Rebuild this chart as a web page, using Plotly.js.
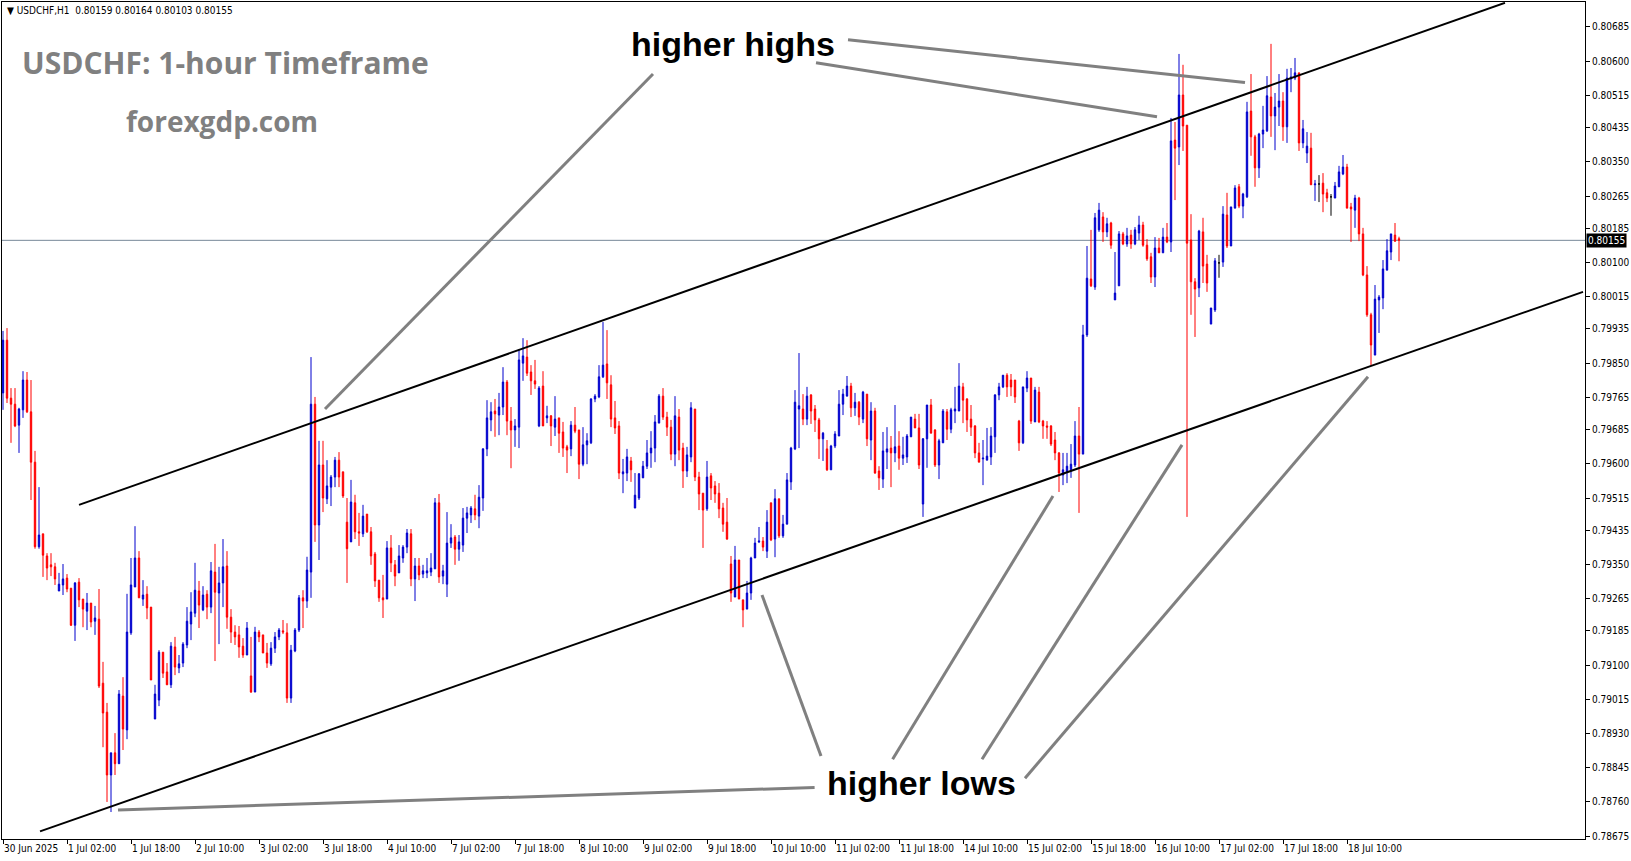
<!DOCTYPE html>
<html>
<head>
<meta charset="utf-8">
<script src="https://cdn.plot.ly/plotly-3.0.1.min.js"></script>
<style>
  html, body { margin: 0; padding: 0; background: #ffffff; }
  #chart { width: 1631px; height: 861px; }
</style>
</head>
<body>
<div id="chart"></div>
<script>
// ---------------- DATA (USDCHF H1, candles 30 Jun 2025 10:00 -> 18 Jul 2025 23:00) ----------------
const open = [
0.79776,0.79907,0.79763,0.79748,0.79696,0.79734,0.79808,0.79729,0.79604,0.79394,
0.79426,0.79371,0.79349,0.79344,0.79284,0.79299,0.79316,0.79291,0.79199,0.79306,
0.79264,0.79234,0.79254,0.79209,0.79214,0.79055,0.78983,0.78827,0.78882,0.78855,
0.79023,0.78939,0.79180,0.79294,0.79366,0.79264,0.79276,0.79244,0.78966,0.79013,
0.79132,0.79083,0.79051,0.79145,0.79093,0.79105,0.79150,0.79202,0.79229,0.79284,
0.79237,0.79276,0.79244,0.79331,0.79279,0.79304,0.79346,0.79219,0.79182,0.79175,
0.79147,0.79125,0.79073,0.79033,0.79182,0.79175,0.79130,0.79103,0.79142,0.79170,
0.79185,0.79180,0.79018,0.79135,0.79187,0.79267,0.79259,0.79331,0.79748,0.79448,
0.79597,0.79513,0.79542,0.79567,0.79609,0.79580,0.79455,0.79406,0.79503,0.79431,
0.79426,0.79475,0.79431,0.79376,0.79311,0.79267,0.79264,0.79391,0.79349,0.79329,
0.79366,0.79393,0.79426,0.79314,0.79346,0.79326,0.79329,0.79331,0.79339,0.79503,
0.79321,0.79301,0.79403,0.79418,0.79388,0.79398,0.79465,0.79473,0.79488,0.79470,
0.79515,0.79637,0.79709,0.79731,0.79721,0.79741,0.79803,0.79706,0.79684,0.79691,
0.79850,0.79865,0.79828,0.79806,0.79694,0.79793,0.79714,0.79719,0.79691,0.79714,
0.79679,0.79642,0.79637,0.79696,0.79684,0.79599,0.79647,0.79652,0.79761,0.79766,
0.79816,0.79848,0.79796,0.79714,0.79694,0.79575,0.79577,0.79607,0.79490,0.79515,
0.79565,0.79594,0.79627,0.79639,0.79701,0.79768,0.79716,0.79691,0.79624,0.79716,
0.79639,0.79582,0.79617,0.79736,0.79567,0.79527,0.79488,0.79570,0.79545,0.79527,
0.79490,0.79455,0.79351,0.79269,0.79361,0.79262,0.79239,0.79279,0.79366,0.79406,
0.79408,0.79383,0.79503,0.79413,0.79513,0.79421,0.79450,0.79555,0.79637,0.79736,
0.79736,0.79711,0.79771,0.79736,0.79709,0.79662,0.79637,0.79585,0.79644,0.79669,
0.79748,0.79768,0.79793,0.79739,0.79753,0.79711,0.79773,0.79659,0.79731,0.79582,
0.79562,0.79629,0.79639,0.79627,0.79644,0.79614,0.79617,0.79667,0.79711,0.79689,
0.79500,0.79662,0.79746,0.79684,0.79597,0.79652,0.79729,0.79686,0.79731,0.79731,
0.79791,0.79761,0.79711,0.79694,0.79627,0.79612,0.79609,0.79617,0.79667,0.79771,
0.79791,0.79820,0.79808,0.79808,0.79706,0.79652,0.79788,0.79813,0.79704,0.79778,
0.79706,0.79694,0.79694,0.79659,0.79627,0.79572,0.79580,0.79585,0.79597,0.79669,
0.79624,0.79920,0.80059,0.80039,0.80181,0.80213,0.80176,0.80198,0.80007,0.80042,
0.80171,0.80146,0.80168,0.80146,0.80173,0.80193,0.80143,0.80114,0.80064,0.80136,
0.80124,0.80163,0.80151,0.80404,0.80387,0.80516,0.80441,0.80156,0.80052,0.80037,
0.80176,0.80096,0.79947,0.79982,0.80099,0.80101,0.80218,0.80141,0.80235,0.80288,
0.80240,0.80263,0.80476,0.80412,0.80335,0.80419,0.80427,0.80511,0.80464,0.80486,
0.80501,0.80437,0.80556,0.80558,0.80571,0.80397,0.80372,0.80384,0.80293,0.80295,
0.80297,0.80273,0.80263,0.80260,0.80288,0.80320,0.80337,0.80238,0.80230,0.80260,
0.80171,0.80069,0.79970,0.79870,0.80007,0.80012,0.80081,0.80126,0.80168,0.80159
];
const high = [
0.79930,0.79937,0.79788,0.79788,0.79739,0.79830,0.79828,0.79808,0.79632,0.79542,
0.79426,0.79378,0.79378,0.79354,0.79329,0.79351,0.79326,0.79291,0.79306,0.79316,
0.79264,0.79279,0.79254,0.79247,0.79289,0.79108,0.79006,0.78882,0.78931,0.79038,
0.79070,0.79277,0.79366,0.79445,0.79383,0.79311,0.79296,0.79244,0.79051,0.79137,
0.79132,0.79105,0.79157,0.79170,0.79125,0.79157,0.79244,0.79281,0.79354,0.79309,
0.79296,0.79286,0.79356,0.79401,0.79344,0.79413,0.79383,0.79239,0.79199,0.79197,
0.79167,0.79207,0.79170,0.79195,0.79187,0.79175,0.79155,0.79157,0.79182,0.79192,
0.79212,0.79204,0.79150,0.79192,0.79274,0.79286,0.79369,0.79865,0.79766,0.79657,
0.79657,0.79609,0.79572,0.79617,0.79629,0.79580,0.79515,0.79560,0.79523,0.79478,
0.79498,0.79475,0.79443,0.79381,0.79311,0.79324,0.79408,0.79423,0.79361,0.79398,
0.79398,0.79438,0.79438,0.79366,0.79366,0.79349,0.79366,0.79378,0.79515,0.79525,
0.79349,0.79480,0.79450,0.79423,0.79423,0.79490,0.79493,0.79495,0.79523,0.79547,
0.79639,0.79758,0.79753,0.79761,0.79776,0.79840,0.79808,0.79741,0.79711,0.79885,
0.79912,0.79907,0.79845,0.79858,0.79793,0.79830,0.79744,0.79721,0.79768,0.79714,
0.79704,0.79647,0.79706,0.79741,0.79684,0.79691,0.79676,0.79763,0.79773,0.79845,
0.79952,0.79932,0.79820,0.79756,0.79706,0.79612,0.79637,0.79617,0.79577,0.79577,
0.79607,0.79659,0.79681,0.79721,0.79773,0.79788,0.79729,0.79709,0.79768,0.79736,
0.79652,0.79642,0.79753,0.79736,0.79580,0.79527,0.79607,0.79577,0.79557,0.79552,
0.79503,0.79515,0.79371,0.79396,0.79361,0.79262,0.79309,0.79369,0.79416,0.79443,
0.79418,0.79485,0.79503,0.79537,0.79513,0.79473,0.79577,0.79642,0.79783,0.79875,
0.79773,0.79791,0.79773,0.79746,0.79714,0.79679,0.79659,0.79647,0.79681,0.79783,
0.79786,0.79818,0.79801,0.79776,0.79756,0.79781,0.79773,0.79753,0.79739,0.79594,
0.79679,0.79691,0.79669,0.79746,0.79681,0.79667,0.79674,0.79716,0.79724,0.79724,
0.79664,0.79746,0.79761,0.79686,0.79662,0.79736,0.79736,0.79739,0.79791,0.79850,
0.79801,0.79763,0.79746,0.79696,0.79652,0.79659,0.79689,0.79691,0.79773,0.79801,
0.79820,0.79825,0.79823,0.79808,0.79709,0.79791,0.79830,0.79813,0.79791,0.79791,
0.79709,0.79706,0.79696,0.79679,0.79629,0.79627,0.79627,0.79649,0.79706,0.79741,
0.79945,0.80141,0.80181,0.80223,0.80248,0.80225,0.80211,0.80201,0.80126,0.80178,
0.80176,0.80186,0.80181,0.80188,0.80216,0.80201,0.80158,0.80124,0.80163,0.80161,
0.80186,0.80198,0.80459,0.80449,0.80618,0.80591,0.80441,0.80220,0.80061,0.80181,
0.80211,0.80119,0.79987,0.80111,0.80119,0.80240,0.80273,0.80238,0.80292,0.80295,
0.80273,0.80499,0.80568,0.80417,0.80422,0.80489,0.80563,0.80643,0.80521,0.80568,
0.80523,0.80581,0.80583,0.80608,0.80571,0.80454,0.80424,0.80422,0.80305,0.80317,
0.80322,0.80283,0.80270,0.80300,0.80340,0.80367,0.80345,0.80248,0.80268,0.80263,
0.80186,0.80091,0.79975,0.80044,0.80019,0.80106,0.80158,0.80171,0.80198,0.80164
];
const low = [
0.79734,0.79751,0.79652,0.79691,0.79627,0.79714,0.79726,0.79510,0.79389,0.79389,
0.79319,0.79311,0.79321,0.79299,0.79284,0.79274,0.79281,0.79197,0.79160,0.79244,
0.79194,0.79187,0.79194,0.79175,0.79043,0.78896,0.78760,0.78735,0.78827,0.78855,
0.78889,0.78916,0.79175,0.79294,0.79267,0.79247,0.79214,0.79063,0.78966,0.78998,
0.79068,0.79051,0.79043,0.79075,0.79080,0.79095,0.79142,0.79162,0.79219,0.79192,
0.79234,0.79214,0.79229,0.79110,0.79152,0.79244,0.79190,0.79155,0.79150,0.79118,
0.79118,0.79125,0.79031,0.79033,0.79157,0.79130,0.79093,0.79098,0.79130,0.79162,
0.79177,0.79006,0.79006,0.79132,0.79182,0.79192,0.79242,0.79267,0.79406,0.79361,
0.79480,0.79500,0.79495,0.79542,0.79542,0.79515,0.79304,0.79406,0.79413,0.79396,
0.79418,0.79428,0.79349,0.79294,0.79257,0.79217,0.79264,0.79331,0.79296,0.79329,
0.79354,0.79378,0.79296,0.79259,0.79311,0.79316,0.79316,0.79321,0.79339,0.79304,
0.79301,0.79269,0.79391,0.79349,0.79359,0.79381,0.79428,0.79453,0.79460,0.79440,
0.79483,0.79619,0.79681,0.79667,0.79671,0.79721,0.79671,0.79589,0.79642,0.79639,
0.79806,0.79818,0.79771,0.79786,0.79691,0.79694,0.79701,0.79644,0.79669,0.79627,
0.79617,0.79577,0.79619,0.79676,0.79562,0.79594,0.79599,0.79649,0.79753,0.79763,
0.79813,0.79761,0.79691,0.79674,0.79562,0.79527,0.79557,0.79555,0.79490,0.79510,
0.79565,0.79587,0.79590,0.79604,0.79701,0.79709,0.79669,0.79609,0.79594,0.79609,
0.79540,0.79567,0.79604,0.79557,0.79485,0.79391,0.79483,0.79510,0.79503,0.79465,
0.79431,0.79411,0.79257,0.79269,0.79264,0.79194,0.79239,0.79262,0.79366,0.79403,
0.79383,0.79366,0.79408,0.79368,0.79416,0.79416,0.79450,0.79535,0.79634,0.79639,
0.79696,0.79696,0.79699,0.79679,0.79612,0.79607,0.79582,0.79585,0.79639,0.79669,
0.79721,0.79768,0.79716,0.79719,0.79696,0.79701,0.79644,0.79609,0.79575,0.79535,
0.79540,0.79587,0.79542,0.79604,0.79585,0.79597,0.79602,0.79667,0.79689,0.79587,
0.79468,0.79590,0.79676,0.79592,0.79562,0.79652,0.79659,0.79676,0.79701,0.79731,
0.79701,0.79679,0.79669,0.79614,0.79604,0.79547,0.79609,0.79597,0.79627,0.79758,
0.79788,0.79766,0.79768,0.79751,0.79632,0.79649,0.79778,0.79699,0.79704,0.79701,
0.79662,0.79662,0.79644,0.79609,0.79530,0.79547,0.79552,0.79565,0.79592,0.79478,
0.79624,0.79915,0.80039,0.80032,0.80176,0.80151,0.80163,0.80134,0.80007,0.80042,
0.80143,0.80139,0.80134,0.80143,0.80156,0.80139,0.80104,0.80049,0.80039,0.80124,
0.80124,0.80148,0.80126,0.80255,0.80342,0.80377,0.79468,0.79970,0.79915,0.80014,
0.80049,0.80027,0.79947,0.79977,0.80062,0.80089,0.80136,0.80141,0.80235,0.80235,
0.80210,0.80260,0.80365,0.80288,0.80310,0.80384,0.80424,0.80412,0.80379,0.80439,
0.80402,0.80397,0.80523,0.80553,0.80377,0.80384,0.80347,0.80293,0.80253,0.80250,
0.80225,0.80250,0.80216,0.80260,0.80288,0.80317,0.80235,0.80151,0.80186,0.80153,
0.80066,0.79965,0.79845,0.79870,0.79925,0.79984,0.80081,0.80106,0.80151,0.80103
];
const close = [
0.79907,0.79763,0.79748,0.79694,0.79736,0.79808,0.79729,0.79604,0.79394,0.79423,
0.79373,0.79341,0.79344,0.79314,0.79301,0.79314,0.79289,0.79199,0.79304,0.79262,
0.79239,0.79254,0.79207,0.79217,0.79048,0.78981,0.78827,0.78882,0.78855,0.79028,
0.78941,0.79182,0.79299,0.79366,0.79267,0.79274,0.79242,0.79063,0.79028,0.79132,
0.79080,0.79051,0.79147,0.79095,0.79103,0.79152,0.79209,0.79232,0.79286,0.79249,
0.79274,0.79244,0.79334,0.79281,0.79304,0.79344,0.79219,0.79182,0.79170,0.79145,
0.79125,0.79192,0.79033,0.79182,0.79170,0.79130,0.79105,0.79142,0.79170,0.79187,
0.79182,0.79018,0.79137,0.79187,0.79267,0.79259,0.79336,0.79748,0.79448,0.79597,
0.79515,0.79545,0.79567,0.79609,0.79567,0.79520,0.79389,0.79505,0.79431,0.79428,
0.79470,0.79431,0.79371,0.79309,0.79267,0.79262,0.79391,0.79354,0.79321,0.79371,
0.79393,0.79428,0.79314,0.79346,0.79324,0.79334,0.79334,0.79341,0.79503,0.79319,
0.79334,0.79403,0.79416,0.79388,0.79406,0.79465,0.79478,0.79490,0.79473,0.79517,
0.79637,0.79714,0.79729,0.79724,0.79741,0.79803,0.79706,0.79684,0.79694,0.79858,
0.79868,0.79825,0.79806,0.79798,0.79788,0.79694,0.79719,0.79694,0.79711,0.79676,
0.79639,0.79634,0.79696,0.79681,0.79599,0.79647,0.79657,0.79761,0.79768,0.79816,
0.79845,0.79801,0.79711,0.79689,0.79577,0.79580,0.79617,0.79585,0.79522,0.79575,
0.79594,0.79627,0.79639,0.79704,0.79768,0.79716,0.79691,0.79624,0.79719,0.79634,
0.79582,0.79622,0.79739,0.79567,0.79525,0.79485,0.79567,0.79540,0.79525,0.79488,
0.79450,0.79413,0.79279,0.79361,0.79264,0.79237,0.79279,0.79366,0.79403,0.79408,
0.79393,0.79455,0.79411,0.79513,0.79421,0.79450,0.79560,0.79639,0.79753,0.79744,
0.79711,0.79768,0.79731,0.79709,0.79662,0.79676,0.79585,0.79644,0.79674,0.79748,
0.79773,0.79793,0.79739,0.79753,0.79716,0.79778,0.79662,0.79731,0.79577,0.79565,
0.79632,0.79637,0.79627,0.79642,0.79614,0.79622,0.79669,0.79716,0.79689,0.79597,
0.79662,0.79746,0.79676,0.79597,0.79657,0.79731,0.79686,0.79734,0.79736,0.79793,
0.79758,0.79709,0.79691,0.79627,0.79604,0.79614,0.79619,0.79669,0.79771,0.79791,
0.79820,0.79791,0.79791,0.79766,0.79652,0.79791,0.79813,0.79706,0.79783,0.79704,
0.79694,0.79691,0.79649,0.79627,0.79577,0.79585,0.79594,0.79599,0.79669,0.79624,
0.79920,0.80061,0.80042,0.80211,0.80230,0.80176,0.80196,0.80143,0.80024,0.80171,
0.80146,0.80166,0.80146,0.80181,0.80193,0.80143,0.80109,0.80064,0.80136,0.80124,
0.80163,0.80151,0.80402,0.80384,0.80516,0.80439,0.80148,0.80052,0.80034,0.80178,
0.80091,0.80049,0.79987,0.80104,0.80099,0.80220,0.80141,0.80238,0.80285,0.80240,
0.80270,0.80474,0.80412,0.80335,0.80419,0.80429,0.80514,0.80464,0.80486,0.80501,
0.80437,0.80558,0.80561,0.80571,0.80397,0.80432,0.80389,0.80293,0.80295,0.80295,
0.80270,0.80260,0.80263,0.80290,0.80325,0.80337,0.80235,0.80233,0.80260,0.80171,
0.80069,0.79970,0.79895,0.80009,0.80014,0.80084,0.80129,0.80171,0.80153,0.80155
];

// time-axis labels (one every 16 hourly candles)
const xTickLabels = ['30 Jun 2025','1 Jul 02:00','1 Jul 18:00','2 Jul 10:00','3 Jul 02:00','3 Jul 18:00',
  '4 Jul 10:00','7 Jul 02:00','7 Jul 18:00','8 Jul 10:00','9 Jul 02:00','9 Jul 18:00','10 Jul 10:00',
  '11 Jul 02:00','11 Jul 18:00','14 Jul 10:00','15 Jul 02:00','15 Jul 18:00','16 Jul 10:00',
  '17 Jul 02:00','17 Jul 18:00','18 Jul 10:00'];
const xTickStep = 16;
const yTickLabels = ['0.80685','0.80600','0.80515','0.80435','0.80350','0.80265','0.80185','0.80100',
  '0.80015','0.79935','0.79850','0.79765','0.79685','0.79600','0.79515','0.79435','0.79350','0.79265',
  '0.79185','0.79100','0.79015','0.78930','0.78845','0.78760','0.78675'];

const lastPrice = 0.80155;
const headerText = '\u25BC USDCHF,H1  0.80159 0.80164 0.80103 0.80155';

// channel trend lines: [candle index, price] anchors
const upperChannel = [[19, 0.79498], [375.5, 0.80745]];
const lowerChannel = [[9.25, 0.78687], [395, 0.80027]];
// pointer lines for the labels: [[from idx, price], [to idx, price]]
const highPointers = [
  [[211.25, 0.80653], [310.5, 0.80547]],
  [[203.25, 0.80596], [288.5, 0.80462]],
  [[162.5, 0.80568], [80.5, 0.79736]]
];
const lowPointers = [
  [[204.5, 0.78874], [189.75, 0.79274]],
  [[222.4, 0.78866], [262.5, 0.79520]],
  [[244.75, 0.78866], [294.75, 0.79647]],
  [[255.5, 0.78819], [341.25, 0.79816]],
  [[202.9, 0.78796], [28.75, 0.78740]]
];

// ---------------- CHART ----------------
const BLUE = '#0000cd';
const RED = '#ff0000';
const AXFONT = {family: '"Liberation Sans Narrow", "DejaVu Sans Condensed", "Liberation Sans", sans-serif', size: 10, color: '#000000'};

const idx = open.map((_, i) => i);
const isDoji = i => open[i] === close[i];
const mainIds = idx.filter(i => !isDoji(i));
const dojiIds = idx.filter(isDoji);
const pick = (arr, ids) => ids.map(i => arr[i]);

const traces = [
  {
    type: 'candlestick',
    x: pick(idx, mainIds), open: pick(open, mainIds), high: pick(high, mainIds),
    low: pick(low, mainIds), close: pick(close, mainIds),
    increasing: {line: {color: BLUE, width: 1}, fillcolor: BLUE},
    decreasing: {line: {color: RED, width: 1}, fillcolor: RED},
    whiskerwidth: 0, hoverinfo: 'skip', showlegend: false
  },
  {
    type: 'candlestick',
    x: pick(idx, dojiIds), open: pick(open, dojiIds), high: pick(high, dojiIds),
    low: pick(low, dojiIds), close: pick(close, dojiIds),
    increasing: {line: {color: '#000000', width: 1}, fillcolor: '#000000'},
    decreasing: {line: {color: '#000000', width: 1}, fillcolor: '#000000'},
    whiskerwidth: 0, hoverinfo: 'skip', showlegend: false
  }
];

const lineShape = (p, color, width) => ({
  type: 'line', xref: 'x', yref: 'y', layer: 'above',
  x0: p[0][0], y0: p[0][1], x1: p[1][0], y1: p[1][1],
  line: {color: color, width: width}
});

const shapes = [
  {type: 'line', xref: 'paper', yref: 'y', x0: 0, x1: 1, y0: lastPrice, y1: lastPrice,
   line: {color: '#778899', width: 1}, layer: 'below'},
  lineShape(upperChannel, '#000000', 2),
  lineShape(lowerChannel, '#000000', 2)
].concat(highPointers.map(p => lineShape(p, '#808080', 3)))
 .concat(lowPointers.map(p => lineShape(p, '#808080', 3)));

const W = 1631, H = 861, ML = 2, MR = 46, MT = 2, MB = 22;
const PW = W - ML - MR, PH = H - MT - MB;
const px = v => (v - ML) / PW;
const py = v => 1 - (v - MT) / PH;

const annotations = [
  {xref: 'paper', yref: 'paper', x: px(5), y: py(11), xanchor: 'left', yanchor: 'middle',
   text: headerText, showarrow: false, font: AXFONT},
  {xref: 'paper', yref: 'paper', x: px(225), y: py(62), xanchor: 'center', yanchor: 'middle',
   text: '<b>USDCHF: 1-hour Timeframe</b>', showarrow: false,
   font: {family: '"Open Sans", "Noto Sans", sans-serif', size: 30, color: '#808080'}},
  {xref: 'paper', yref: 'paper', x: px(222), y: py(121), xanchor: 'center', yanchor: 'middle',
   text: '<b>forexgdp.com</b>', showarrow: false,
   font: {family: '"Open Sans", "Noto Sans", sans-serif', size: 28, color: '#808080'}},
  {xref: 'paper', yref: 'paper', x: px(733), y: py(44), xanchor: 'center', yanchor: 'middle',
   text: '<b>higher highs</b>', showarrow: false,
   font: {family: '"Liberation Sans", Arial, sans-serif', size: 34, color: '#000000'}},
  {xref: 'paper', yref: 'paper', x: px(921), y: py(783), xanchor: 'center', yanchor: 'middle',
   text: '<b>higher lows</b>', showarrow: false,
   font: {family: '"Liberation Sans", Arial, sans-serif', size: 34, color: '#000000'}},
  {xref: 'paper', yref: 'y', x: 1, y: lastPrice, xanchor: 'left', yanchor: 'middle', xshift: 1,
   text: lastPrice.toFixed(5), showarrow: false, bgcolor: '#000000', borderpad: 1,
   font: Object.assign({}, AXFONT, {color: '#ffffff'})}
];

const layout = {
  width: W, height: H,
  margin: {l: ML, r: MR, t: MT, b: MB, pad: 0},
  paper_bgcolor: '#ffffff', plot_bgcolor: '#ffffff',
  showlegend: false,
  boxgap: 0.5,
  xaxis: {
    type: 'linear',
    range: [-0.25, 395.5],
    showgrid: false, zeroline: false,
    showline: true, linecolor: '#000000', linewidth: 1, mirror: true,
    ticks: 'outside', ticklen: 4, tickcolor: '#000000', tickwidth: 1,
    tickvals: xTickLabels.map((_, k) => k * xTickStep),
    ticktext: xTickLabels,
    ticklabelposition: 'outside right',
    tickangle: 0,
    automargin: false,
    tickfont: AXFONT,
    rangeslider: {visible: false},
    fixedrange: true
  },
  yaxis: {
    side: 'right',
    range: [0.78668, 0.80747],
    showgrid: false, zeroline: false,
    showline: true, linecolor: '#000000', linewidth: 1, mirror: true,
    ticks: 'outside', ticklen: 4, tickcolor: '#000000', tickwidth: 1,
    tickvals: yTickLabels.map(Number),
    ticktext: yTickLabels,
    tickfont: AXFONT,
    automargin: false,
    fixedrange: true
  },
  shapes: shapes,
  annotations: annotations
};

Plotly.newPlot('chart', traces, layout, {displayModeBar: false, staticPlot: true});
</script>
</body>
</html>
